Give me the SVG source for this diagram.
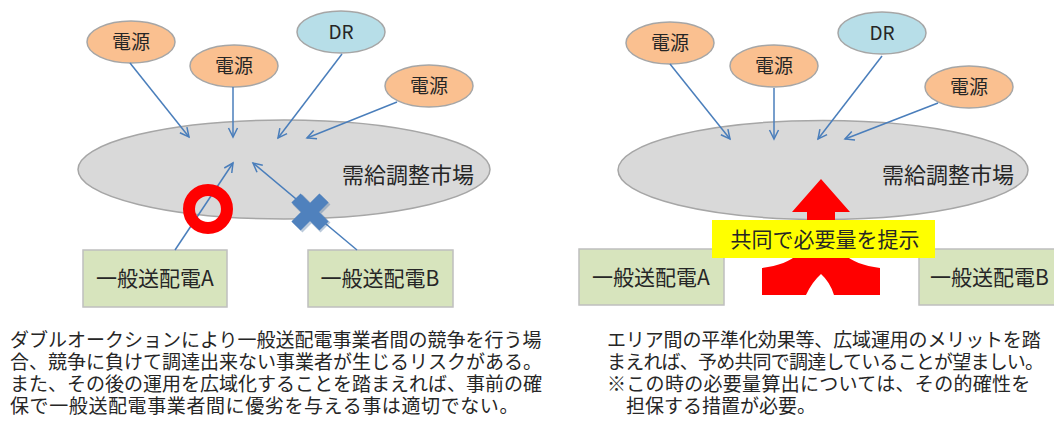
<svg xmlns="http://www.w3.org/2000/svg" width="1054" height="432" viewBox="0 0 1054 432">
<style>
text{font-family:"Noto Sans CJK JP","Noto Sans",sans-serif;fill:#262626}
.src{fill:#fac090;stroke:#a6a6a6;stroke-width:1.5}
.dr{fill:#b7dee8;stroke:#a6a6a6;stroke-width:1.5}
.mkt{fill:#d9d9d9;stroke:#a6a6a6;stroke-width:1.5}
.box{fill:#d7e4bd;stroke:#bfbfbf;stroke-width:1.5}
.lbl{font-size:19px;text-anchor:middle}
.big{font-size:22px}
.boxt{font-size:21px;text-anchor:middle}
text.body{font-family:"Liberation Sans","Noto Sans CJK JP",sans-serif;font-size:19px}
.conn line{stroke:#4a7ebb;stroke-width:1.5;marker-end:url(#ah)}
</style>
<defs>
<marker id="ah" markerUnits="userSpaceOnUse" markerWidth="12" markerHeight="12" refX="10" refY="6" orient="auto">
<path d="M1,1.5 L10,6 L1,10.5" fill="none" stroke="#4a7ebb" stroke-width="1.5"/>
</marker>
</defs>
<rect width="1054" height="432" fill="#ffffff"/>

<!-- LEFT PANEL -->
<g id="market-left"><ellipse class="mkt" cx="284" cy="169.5" rx="206" ry="49.5"/><text class="big" x="342" y="183">需給調整市場</text></g>
<g id="src-l1"><ellipse class="src" cx="131" cy="42" rx="44" ry="21"/><text class="lbl" x="131" y="49">電源</text></g>
<g id="src-l2"><ellipse class="src" cx="234" cy="66" rx="44" ry="21"/><text class="lbl" x="234" y="73">電源</text></g>
<g id="dr-l"><ellipse class="dr" cx="341" cy="32" rx="44" ry="21"/><text class="lbl" x="341" y="39">DR</text></g>
<g id="src-l3"><ellipse class="src" cx="429" cy="86" rx="44" ry="21"/><text class="lbl" x="429" y="93">電源</text></g>
<g id="tsoA-l"><rect class="box" x="83" y="250" width="144" height="57"/><text class="boxt" x="155" y="286">一般送配電A</text></g>
<g id="tsoB-l"><rect class="box" x="308" y="250" width="145" height="57"/><text class="boxt" x="380" y="286">一般送配電B</text></g>

<!-- RIGHT PANEL -->
<g id="market-right"><ellipse class="mkt" cx="823" cy="170" rx="205" ry="49.5"/><text class="big" x="882" y="183">需給調整市場</text></g>
<g id="src-r1"><ellipse class="src" cx="670" cy="43" rx="44" ry="21"/><text class="lbl" x="670" y="50">電源</text></g>
<g id="src-r2"><ellipse class="src" cx="774" cy="66" rx="44" ry="21"/><text class="lbl" x="774" y="73">電源</text></g>
<g id="dr-r"><ellipse class="dr" cx="882" cy="33" rx="44" ry="21"/><text class="lbl" x="882" y="40">DR</text></g>
<g id="src-r3"><ellipse class="src" cx="969" cy="87" rx="44" ry="21"/><text class="lbl" x="969" y="94">電源</text></g>
<g id="tsoA-r"><rect class="box" x="579" y="249" width="145" height="56"/><text class="boxt" x="651" y="285">一般送配電A</text></g>
<g id="tsoB-r"><rect class="box" x="919" y="249" width="145" height="56"/><text class="boxt" x="930" y="285" style="text-anchor:start">一般送配電B</text></g>

<g id="connectors" class="conn">
<line x1="130" y1="63" x2="189" y2="137"/>
<line x1="233" y1="87" x2="233" y2="137"/>
<line x1="342" y1="54" x2="278" y2="138"/>
<line x1="397" y1="102" x2="307" y2="138"/>
<line x1="175" y1="250" x2="233" y2="163"/>
<line x1="357" y1="250" x2="253" y2="163"/>
<line x1="670" y1="64" x2="730" y2="139"/>
<line x1="774" y1="88" x2="774" y2="139"/>
<line x1="882" y1="56" x2="818" y2="139"/>
<line x1="938" y1="103" x2="845" y2="139"/>
</g>

<g id="ok-mark"><circle cx="208" cy="209" r="19" fill="none" stroke="#ff0000" stroke-width="12"/></g>
<g id="ng-mark">
<path d="M296,198 L324,226 M324,198 L296,226" stroke="#3c6699" stroke-opacity="0.35" stroke-width="14" transform="translate(1.5,1.5)"/>
<path d="M296,198 L324,226 M324,198 L296,226" stroke="#4f81bd" stroke-width="13"/>
</g>

<g id="joint-arrow">
<path d="M762,295 L762,268 Q800,263 807,240 L807,212 L792,212 L821,179 L850,212 L835,212 L835,240 Q842,263 880,268 L880,295 L834,295 Q830,282 821,274 Q812,282 806,295 Z" fill="#ff0000"/>
</g>
<g id="joint-label"><rect x="712" y="220" width="223" height="38" fill="#ffff00"/><text class="big" x="825" y="247" text-anchor="middle" style="font-size:21px">共同で必要量を提示</text></g>

<g id="text-left">
<text class="body" x="10" y="347">ダブルオークションにより一般送配電事業者間の競争を行う場</text>
<text class="body" x="10" y="369">合、競争に負けて調達出来ない事業者が生じるリスクがある。</text>
<text class="body" x="10" y="391">また、その後の運用を広域化することを踏まえれば、事前の確</text>
<text class="body" x="10" y="413" letter-spacing="0.6">保で一般送配電事業者間に優劣を与える事は適切でない。</text>
</g>
<g id="text-right">
<text class="body" x="607" y="347" letter-spacing="-0.15">エリア間の平準化効果等、広域運用のメリットを踏</text>
<text class="body" x="607" y="369" letter-spacing="-0.8">まえれば、予め共同で調達していることが望ましい。</text>
<text class="body" x="607" y="391" letter-spacing="0.3">※この時の必要量算出については、その的確性を</text>
<text class="body" x="626" y="413">担保する措置が必要。</text>
</g>
</svg>
